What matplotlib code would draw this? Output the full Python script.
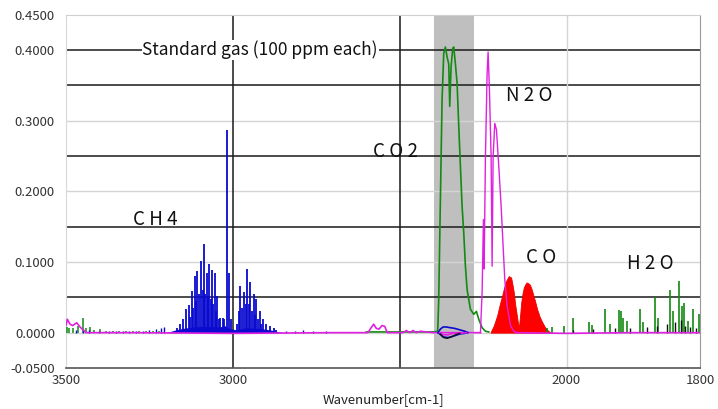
import numpy as np
import matplotlib
matplotlib.use("Agg")
import matplotlib.pyplot as plt

plt.rcParams['font.family'] = ['Noto Sans CJK JP', 'DejaVu Sans']

# ---------------- data ----------------
# CH4 rotational lines (wavenumber cm-1, absorbance)
ch4_wn = [3168, 3158, 3148, 3140, 3131, 3127, 3123, 3118, 3114, 3110, 3106, 3100, 3095,
          3090, 3086, 3082, 3078, 3074, 3070, 3066, 3062, 3058, 3054, 3050, 3046, 3042,
          3038, 3030, 3025, 3017, 3012, 3006, 2988, 2982, 2978, 2972, 2968, 2962, 2957,
          2952, 2948, 2943, 2938, 2934, 2930, 2925, 2920, 2915, 2910, 2900, 2890, 2878, 2870]
ch4_abs = [0.007, 0.012, 0.019, 0.033, 0.039, 0.022, 0.059, 0.035, 0.080, 0.045, 0.087,
           0.055, 0.101, 0.060, 0.125, 0.055, 0.085, 0.050, 0.097, 0.048, 0.089, 0.040,
           0.085, 0.030, 0.052, 0.020, 0.021, 0.021, 0.019, 0.287, 0.085, 0.019, 0.012,
           0.030, 0.066, 0.035, 0.057, 0.040, 0.090, 0.040, 0.071, 0.030, 0.054, 0.025,
           0.047, 0.020, 0.031, 0.012, 0.019, 0.012, 0.010, 0.007, 0.004]
ch4_base_wn = [3200, 3185, 3170, 3150, 3120, 3080, 3040, 3025, 3010, 2990, 2960, 2920, 2890, 2870, 2850]
ch4_base_abs = [0.000, 0.002, 0.004, 0.006, 0.008, 0.009, 0.008, 0.010, 0.006, 0.004, 0.007, 0.006, 0.004, 0.002, 0.000]

# CO2 band (green)
co2_wn = [2600, 2400, 2386, 2383, 2378, 2373, 2368, 2363, 2358, 2353, 2350, 2346, 2341,
          2338, 2333, 2328, 2323, 2318, 2313, 2308, 2303, 2298, 2288, 2278, 2270, 2263,
          2253, 2243, 2233]
co2_abs = [0.001, 0.001, 0.002, 0.047, 0.188, 0.329, 0.395, 0.404, 0.390, 0.380, 0.320,
           0.376, 0.402, 0.404, 0.380, 0.353, 0.292, 0.235, 0.179, 0.141, 0.094, 0.061,
           0.033, 0.026, 0.030, 0.019, 0.007, 0.002, 0.001]

# N2O band (magenta)
n2o_wn = [2258, 2253, 2249, 2247, 2243, 2238, 2235, 2231, 2226, 2223, 2220, 2215, 2210,
          2203, 2196, 2190, 2185, 2178, 2168, 2158, 2150]
n2o_abs = [0.000, 0.057, 0.160, 0.090, 0.249, 0.367, 0.397, 0.343, 0.249, 0.094, 0.249,
           0.296, 0.287, 0.235, 0.179, 0.122, 0.075, 0.038, 0.010, 0.002, 0.000]

# CO band envelope (red)
co_wn = [2228, 2218, 2208, 2200, 2193, 2188, 2183, 2178, 2173, 2170, 2166, 2162, 2158,
         2154, 2150, 2146, 2143, 2139, 2136, 2132, 2128, 2124, 2120, 2115, 2110, 2105,
         2100, 2094, 2088, 2080, 2073, 2065, 2058, 2048]
co_abs = [0.000, 0.010, 0.024, 0.040, 0.052, 0.062, 0.071, 0.076, 0.080, 0.079, 0.078,
          0.068, 0.057, 0.040, 0.028, 0.015, 0.006, 0.025, 0.042, 0.055, 0.064, 0.068,
          0.071, 0.070, 0.068, 0.062, 0.054, 0.044, 0.033, 0.022, 0.015, 0.008, 0.004, 0.000]

# H2O lines (dark green) and a few black lines
h2o_wn = [2060, 2045, 2007, 1991, 1967, 1962, 1942, 1935, 1922, 1919, 1915, 1909, 1890,
          1886, 1868, 1863, 1845, 1841, 1831, 1827, 1824, 1818, 1810, 1802]
h2o_abs = [0.006, 0.008, 0.010, 0.021, 0.015, 0.011, 0.033, 0.012, 0.032, 0.030, 0.021,
           0.017, 0.033, 0.015, 0.050, 0.021, 0.061, 0.030, 0.073, 0.038, 0.042, 0.017,
           0.033, 0.026]
blk_wn = [1990, 1960, 1928, 1905, 1880, 1865, 1850, 1838, 1829, 1822, 1815, 1806]
blk_abs = [0.004, 0.005, 0.006, 0.006, 0.008, 0.010, 0.012, 0.015, 0.018, 0.010, 0.008, 0.006]

# low-level noise near 3500
grn_noise_wn = [3498, 3490, 3478, 3465, 3448, 3440, 3428, 3415, 3398, 3380, 3360,
                3340, 3320, 3300, 3280, 3260, 3240, 3220]
grn_noise_abs = [0.008, 0.006, 0.007, 0.010, 0.021, 0.006, 0.008, 0.004, 0.005, 0.003,
                 0.003, 0.003, 0.002, 0.003, 0.002, 0.003, 0.002, 0.003]
blu_noise_wn = [3470, 3450, 3430, 3400, 3370, 3350, 3330, 3310, 3290, 3270, 3250,
                3230, 3215, 3205, 2840, 2815, 2790, 2760, 2720]
blu_noise_abs = [0.004, 0.005, 0.004, 0.002, 0.002, 0.003, 0.002, 0.003, 0.002, 0.003,
                 0.004, 0.005, 0.006, 0.008, 0.002, 0.003, 0.004, 0.002, 0.002]

# magenta baseline with small bumps
mag_wn = [3500, 3496, 3488, 3480, 3468, 3458, 3440, 3300, 3000, 2700, 2595, 2587, 2578,
          2570, 2562, 2553, 2545, 2537, 2490, 2480, 2470, 2460, 2450, 2438, 2400, 2258]
mag_abs = [0.010, 0.019, 0.012, 0.010, 0.014, 0.008, 0.000, 0.000, -0.001, 0.000, 0.000,
           0.006, 0.012, 0.006, 0.005, 0.010, 0.009, 0.000, 0.000, 0.003, 0.000, 0.003,
           0.000, 0.002, 0.000, 0.000]
mag_tail_wn = [2150, 2000, 1900, 1800]
mag_tail_abs = [0.000, -0.001, 0.000, 0.000]

# loops inside the CO2 band (blue, magenta, black)
loop_blue_wn = [2385, 2378, 2370, 2360, 2348, 2335, 2320, 2305, 2295, 2305, 2320,
                2340, 2355, 2370, 2380, 2385]
loop_blue_abs = [0.000, 0.005, 0.008, 0.008, 0.007, 0.006, 0.004, 0.002, 0.000, -0.001,
                 -0.002, -0.005, -0.007, -0.006, -0.002, 0.000]
loop_mag_wn = [2380, 2370, 2355, 2340, 2320, 2300]
loop_mag_abs = [0.000, -0.003, -0.003, -0.001, -0.001, 0.000]
loop_blk_wn = [2378, 2368, 2358, 2345, 2332, 2320]
loop_blk_abs = [-0.002, -0.007, -0.008, -0.006, -0.003, -0.001]

band_span = (2396, 2278)

y_ticks = [0.45, 0.40, 0.30, 0.20, 0.10, 0.0, -0.05]
y_tick_labels = ["0.4500", "0.4000", "0.3000", "0.2000", "0.1000", "0.0000", "-0.0500"]
x_ticks = [3500, 3000, 2000, 1800]
x_tick_labels = ["3500", "3000", "2000", "1800"]
dark_grid_y = [0.40, 0.35, 0.25, 0.15, 0.05]
light_grid_y = [0.30, 0.20, 0.10, 0.0]
dark_grid_x = [3000, 2500]
light_grid_x = [2000]

# ---------------- figure ----------------
fig = plt.figure(figsize=(7.18, 4.09), dpi=100)
ax = fig.add_axes([66 / 718, 1 - 368 / 409, (700 - 66) / 718, (368 - 14.5) / 409])


def fwd(x):
    # below 2000 cm-1 the axis is stretched twice as much
    x = np.asarray(x, dtype=float)
    return np.where(x >= 2000, x, 2 * x - 2000)


def inv(t):
    t = np.asarray(t, dtype=float)
    return np.where(t >= 2000, t, (t + 2000) / 2)


ax.set_xscale('function', functions=(fwd, inv))
ax.set_xlim(3500, 1800)
ax.set_ylim(-0.05, 0.45)

ax.axvspan(band_span[0], band_span[1], color='#bfbfbf', zorder=0.5, lw=0)
for y in light_grid_y:
    ax.axhline(y, color='#d4d4d4', lw=1.0, zorder=1)
for y in dark_grid_y:
    ax.axhline(y, color='#1a1a1a', lw=1.1, zorder=1)
for x in dark_grid_x:
    ax.axvline(x, color='#1a1a1a', lw=1.1, zorder=1)
for x in light_grid_x:
    ax.axvline(x, color='#d4d4d4', lw=1.0, zorder=1)

green = '#138a13'
blue = '#0a0ad0'
mag = '#e020e0'

ax.vlines(grn_noise_wn, 0, grn_noise_abs, color=green, lw=1.1, zorder=3)
ax.vlines(blu_noise_wn, 0, blu_noise_abs, color=blue, lw=1.0, zorder=3)
ax.fill_between(ch4_base_wn, 0, ch4_base_abs, color=blue, lw=0, zorder=3)
ax.vlines(ch4_wn, 0, ch4_abs, color=blue, lw=1.3, zorder=3)

ax.fill_between(co_wn, 0, co_abs, color='#ff0000', lw=0.6, edgecolor='#ee0000', zorder=3)
ax.plot(co2_wn, co2_abs, color=green, lw=1.2, zorder=4)
ax.plot(n2o_wn, n2o_abs, color=mag, lw=1.0, zorder=4)
ax.plot(mag_wn, mag_abs, color=mag, lw=1.2, zorder=4)
ax.plot(mag_tail_wn, mag_tail_abs, color=mag, lw=1.2, zorder=4)
ax.vlines(h2o_wn, 0, h2o_abs, color=green, lw=1.2, zorder=3)
ax.vlines(blk_wn, 0, blk_abs, color='#111111', lw=1.0, zorder=3)
ax.plot(loop_blue_wn, loop_blue_abs, color=blue, lw=1.2, zorder=4)
ax.plot(loop_mag_wn, loop_mag_abs, color=mag, lw=1.2, zorder=4)
ax.plot(loop_blk_wn, loop_blk_abs, color='#111111', lw=1.0, zorder=4)

# labels
ax.text(2918, 0.40, "Standard gas (100 ppm each)", ha='center', va='center',
        fontsize=12.5, color='#111111', zorder=6,
        bbox=dict(facecolor='white', edgecolor='none', pad=0.5))
lab_kw = dict(fontsize=13.5, color='#111111', zorder=6, ha='center', va='center')
ax.text(3232, 0.160, "C H 4", **lab_kw)
ax.text(2512, 0.256, "C O 2", **lab_kw)
ax.text(2112, 0.335, "N 2 O", **lab_kw)
ax.text(2076, 0.106, "C O", **lab_kw)
ax.text(1875, 0.098, "H 2 O", **lab_kw)

ax.set_yticks(y_ticks)
ax.set_yticklabels(y_tick_labels)
ax.set_xticks(x_ticks)
ax.set_xticklabels(x_tick_labels)
ax.minorticks_off()
ax.tick_params(axis='both', length=0, labelsize=9.5, colors='#333333')
ax.tick_params(axis='y', pad=8)
ax.tick_params(axis='x', pad=4)
ax.set_xlabel("Wavenumber[cm-1]", fontsize=9.5, color='#222222', labelpad=5)

ax.spines['top'].set_color('#d0d0d0')
ax.spines['left'].set_color('#d8d8d8')
ax.spines['right'].set_color('#999999')
ax.spines['bottom'].set_color('#555555')
ax.spines['bottom'].set_linewidth(1.2)

fig.savefig('out.png', dpi=100)
